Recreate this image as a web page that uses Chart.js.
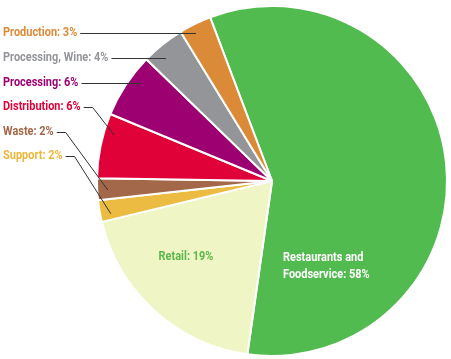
<!DOCTYPE html>
<html>
<head>
<meta charset="utf-8">
<script src="https://cdn.jsdelivr.net/npm/chart.js@4"></script>
<style>
  html, body { margin: 0; padding: 0; background: #fff; }
  #wrap { width: 451px; height: 359px; }
</style>
</head>
<body>
<div id="wrap"><canvas id="myChart" width="451" height="359"></canvas></div>
<script>
// data, clockwise from the top-right
const categories = ["Restaurants and Foodservice", "Retail", "Support", "Waste", "Distribution", "Processing", "Processing, Wine", "Production"]
const shares = [58, 19, 2, 2, 6, 6, 4, 3]
const sliceColors = ["#52bb4f", "#eff5c4", "#ebbb42", "#a3684a", "#df0138", "#9d0071", "#939599", "#db8a37"]
const labelColors = ["#ffffff", "#5cb84c", "#ebb73a", "#a3684a", "#df0138", "#9d0071", "#939599", "#db8a37"]

const FONT = "bold 12.6px Roboto, 'DejaVu Sans', sans-serif"
const SQUEEZE = 0.87 // the original type is a condensed face

// outside labels: index, label y, where the leader lands in the slice (0..1), bend or not
const outside = [
  { i: 7, y: 33, t: 0.37, bend: false },
  { i: 6, y: 58, t: 0.40, bend: false },
  { i: 5, y: 83, t: 0.68, bend: false },
  { i: 4, y: 107, t: 0.71, bend: true },
  { i: 3, y: 132, t: 0.44, bend: true },
  { i: 2, y: 156, t: 0.28, bend: true },
]

// draws squeezed text, returns its width on the page
function drawText(ctx, txt, x, y, align) {
  const w = ctx.measureText(txt).width * SQUEEZE
  let left = x
  if (align == "center") left = x - w / 2
  ctx.save()
  ctx.translate(left, y)
  ctx.scale(SQUEEZE, 1)
  ctx.textAlign = "left"
  ctx.fillText(txt, 0, 0)
  ctx.restore()
  return w
}

const labelPlugin = {
  id: "labels",
  afterDatasetsDraw(chart) {
    const ctx = chart.ctx
    const meta = chart.getDatasetMeta(0)
    ctx.save()
    ctx.font = FONT
    ctx.textBaseline = "middle"
    ctx.strokeStyle = "#333"
    ctx.lineWidth = 1
    outside.forEach(o => {
      const arc = meta.data[o.i]
      const txt = categories[o.i] + ": " + shares[o.i] + "%"
      ctx.fillStyle = labelColors[o.i]
      const w = drawText(ctx, txt, 3, o.y, "left")
      const ang = arc.startAngle + o.t * (arc.endAngle - arc.startAngle)
      const r = arc.outerRadius * 0.94
      const ex = arc.x + Math.cos(ang) * r
      const ey = arc.y + Math.sin(ang) * r
      ctx.beginPath()
      ctx.moveTo(3 + w + 3, o.y + 0.5)
      if (o.bend) {
        ctx.lineTo(3 + w + 12, o.y + 0.5)
        ctx.lineTo(ex, ey)
      } else {
        ctx.lineTo(ex, o.y + 0.5)
      }
      ctx.stroke()
    })
    // inside labels
    const c = meta.data[0]
    ctx.fillStyle = labelColors[1]
    drawText(ctx, "Retail: " + shares[1] + "%", c.x - 86, c.y + 76, "center")
    ctx.fillStyle = labelColors[0]
    drawText(ctx, "Restaurants and", c.x + 11, c.y + 77, "left")
    drawText(ctx, "Foodservice: " + shares[0] + "%", c.x + 11, c.y + 94, "left")
    ctx.restore()
  }
}

const ctx = document.getElementById("myChart").getContext("2d")
const myChart = new Chart(ctx, {
  type: "pie",
  data: {
    labels: categories,
    datasets: [{
      data: shares,
      backgroundColor: sliceColors,
      borderColor: "#ffffff",
      borderWidth: 2,
    }],
  },
  options: {
    responsive: false,
    animation: false,
    rotation: -20.7,
    layout: { padding: { left: 96, right: 3, top: 5, bottom: 2 } },
    plugins: {
      legend: { display: false },
      tooltip: { enabled: false },
    },
  },
  plugins: [labelPlugin],
})
</script>
</body>
</html>
